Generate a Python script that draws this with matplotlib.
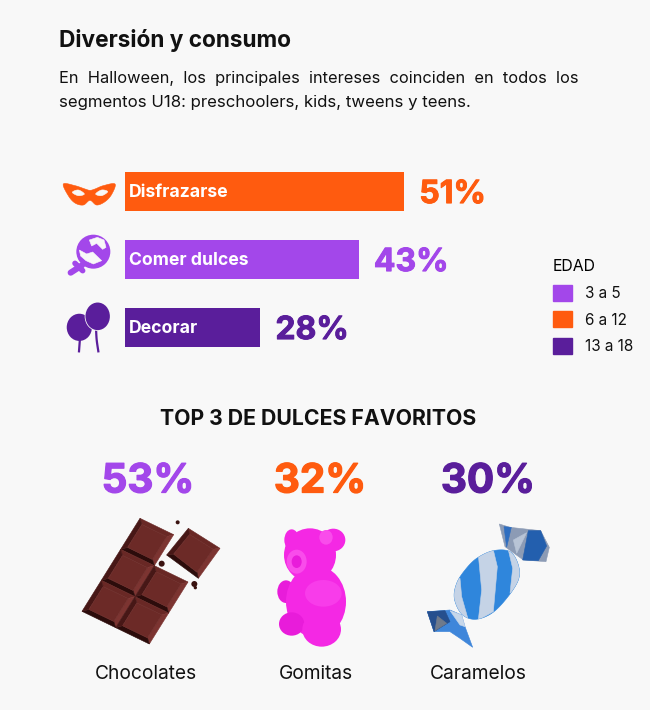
import matplotlib
matplotlib.use("Agg")
import matplotlib.pyplot as plt
import matplotlib.patches as mpatches
import matplotlib.patheffects as pe
import numpy as np

# ===============================================================
# Data
# ===============================================================
activities = ["Disfrazarse", "Comer dulces", "Decorar"]
activity_values = [51, 43, 28]
# the drawn bars are not to scale in the original, so lengths are kept apart
bar_lengths = [51, 42.7, 24.7]

candies = ["Chocolates", "Gomitas", "Caramelos"]
candy_values = [53, 32, 30]

age_groups = ["3 a 5", "6 a 12", "13 a 18"]

BG = "#F8F8F8"
LILAC = "#A347EA"
ORANGE = "#FF5B0F"
PURPLE = "#5A1E9B"
INK = "#111111"
FONT = "Inter"

activity_colors = [ORANGE, LILAC, PURPLE]
candy_colors = [LILAC, ORANGE, PURPLE]
age_colors = [LILAC, ORANGE, PURPLE]

plt.rcParams["font.family"] = [FONT, "DejaVu Sans"]

W, H = 650, 710
fig = plt.figure(figsize=(W / 100, H / 100), dpi=100, facecolor=BG)

# page axes in pixel coordinates, for text and the drawn icons
page = fig.add_axes([0, 0, 1, 1])
page.set_xlim(0, W)
page.set_ylim(H, 0)
page.axis("off")


def smooth(points, closed=True, steps=12):
    """Catmull-Rom curve through the points."""
    pts = np.array(points, dtype=float)
    n = len(pts)
    out = []
    idx = range(n) if closed else range(n - 1)
    for i in idx:
        if closed:
            p0, p1, p2, p3 = pts[i - 1], pts[i], pts[(i + 1) % n], pts[(i + 2) % n]
        else:
            p0, p1, p2, p3 = pts[max(i - 1, 0)], pts[i], pts[i + 1], pts[min(i + 2, n - 1)]
        for t in np.linspace(0, 1, steps, endpoint=False):
            out.append(
                0.5
                * (
                    2 * p1
                    + (p2 - p0) * t
                    + (2 * p0 - 5 * p1 + 4 * p2 - p3) * t**2
                    + (3 * p1 - p0 - 3 * p2 + p3) * t**3
                )
            )
    if not closed:
        out.append(pts[-1])
    return np.array(out)


def zoomed(points, x0, y0):
    """Coordinates measured on a 3x crop back to page pixels."""
    return np.array(points, dtype=float) / 3 + [x0, y0]


def poly(points, color, z=2, clip=None):
    # thin edge in the same colour closes antialiasing gaps between facets
    p = mpatches.Polygon(points, closed=True, facecolor=color, edgecolor=color, lw=0.4, zorder=z)
    page.add_patch(p)
    if clip is not None:
        p.set_clip_path(clip)
    return p


def blob(cx, cy, rx, ry, color, angle=0, z=2):
    p = mpatches.Ellipse((cx, cy), 2 * rx, 2 * ry, angle=angle, facecolor=color, edgecolor="none", zorder=z)
    page.add_patch(p)
    return p


def heavy(col, lw=0.7):
    return [pe.withStroke(linewidth=lw, foreground=col)]


# ===============================================================
# Header
# ===============================================================
page.text(59, 41, "Diversión y consumo", fontsize=16.3, fontweight="bold", color=INK, va="center")
page.text(59, 79, "En  Halloween,  los  principales  intereses  coinciden  en  todos  los", fontsize=11.8, color=INK, va="center")
page.text(59, 102, "segmentos U18: preschoolers, kids, tweens y teens.", fontsize=12.05, color=INK, va="center")

# ===============================================================
# Activity bars
# ===============================================================
ax = fig.add_axes([125 / W, 1 - 361.5 / H, 279 / W, 204 / H])
ax.set_xlim(0, 51)
ax.set_ylim(2.5, -0.5)
ax.axis("off")
ypos = np.arange(len(activities))
ax.barh(ypos, bar_lengths, height=0.566, color=activity_colors)
for i, name in enumerate(activities):
    ax.annotate(name, (0, i), xytext=(3, -1), textcoords="offset points", color="white",
                fontsize=12.7, fontweight="bold", va="center", ha="left")
    ax.annotate(f"{activity_values[i]}%", (bar_lengths[i], i), xytext=(11, -2.2), textcoords="offset points",
                color=activity_colors[i], fontsize=23, fontweight="bold", va="center", ha="left",
                annotation_clip=False, path_effects=heavy(activity_colors[i]))

# mask icon
poly(smooth(zoomed([(25, 27), (60, 32), (90, 42), (105, 46), (120, 42), (145, 32), (180, 27), (170, 58), (150, 80),
                    (125, 90), (105, 76), (85, 90), (60, 84), (40, 62)], 55, 175)), ORANGE)
poly(smooth(zoomed([(52, 52), (70, 45), (88, 57), (70, 62)], 55, 175)), BG, z=3)
poly(smooth(zoomed([(122, 57), (140, 45), (158, 50), (140, 62)], 55, 175)), BG, z=3)

# lollipop icon
c = zoomed([(100, 65)], 60, 230)[0]
blob(c[0], c[1], 17, 17, LILAC)
poly(zoomed([(88, 30), (112, 22), (132, 30), (138, 52), (128, 58), (110, 40), (95, 48)], 60, 230), BG, z=3)
poly(zoomed([(58, 60), (80, 72), (98, 66), (125, 92), (100, 102), (78, 92), (62, 78)], 60, 230), BG, z=3)
s = zoomed([(32, 128), (66, 106)], 60, 230)
page.plot(s[:, 0], s[:, 1], color=LILAC, lw=4.4, solid_capstyle="round", zorder=2)
s = zoomed([(45, 100), (68, 122)], 60, 230)
page.plot(s[:, 0], s[:, 1], color=LILAC, lw=4.0, solid_capstyle="round", zorder=2)

# balloons icon
b = zoomed([(58, 88)], 60, 298)[0]
blob(b[0], b[1], 12.6, 13.6, PURPLE, z=2)
b = zoomed([(113, 55)], 60, 298)[0]
blob(b[0], b[1], 13.0, 14.6, BG, z=3)
blob(b[0], b[1], 12.2, 13.8, PURPLE, z=4)
for line in ([(60, 120), (57, 160)], [(108, 90), (110, 125), (115, 160)]):
    s = smooth(zoomed(line, 60, 298), closed=False)
    page.plot(s[:, 0], s[:, 1], color=PURPLE, lw=1.6, zorder=2)

# ===============================================================
# Legend
# ===============================================================
handles = [mpatches.Patch(color=col, label=lab) for col, lab in zip(age_colors, age_groups)]
leg = fig.legend(handles=handles, title="EDAD", loc="upper left", bbox_to_anchor=(553 / W, 1 - 259 / H),
                 bbox_transform=fig.transFigure, frameon=False, fontsize=11, title_fontsize=11.4,
                 alignment="left", handlelength=1.25, handleheight=1.25, handletextpad=0.82,
                 labelspacing=0.69, borderpad=0, borderaxespad=0)
for t in leg.get_texts():
    t.set_color(INK)

# ===============================================================
# Top 3 candies
# ===============================================================
page.text(318, 419, "TOP 3 DE DULCES FAVORITOS", fontsize=15.3, fontweight="bold", color=INK, ha="center", va="center")

value_x = [148, 320, 488]
label_x = [146, 316, 478]
for i, name in enumerate(candies):
    page.text(value_x[i], 482, f"{candy_values[i]}%", color=candy_colors[i], fontsize=29,
              fontweight="bold", ha="center", va="center", path_effects=heavy(candy_colors[i], 0.9))
    page.text(label_x[i], 674, name, color=INK, fontsize=13.8, ha="center", va="center")


# chocolate bar
def tile(corners, base="#6C2A27", top="#692825", right="#7C3431", bottom="#2C0C0B", left="#471716", z=3):
    a, b, c, d = [np.array(v, dtype=float) for v in corners]
    inset = lambda p, u, v: p + 0.13 * u + 0.13 * v
    ab, ad = b - a, d - a
    ia = inset(a, ab, ad)
    ib = inset(b, -ab, ad)
    ic = inset(c, -ab, -ad)
    id_ = inset(d, ab, -ad)
    poly([a, b, ib, ia], top, z=z)
    poly([b, c, ic, ib], right, z=z)
    poly([c, d, id_, ic], bottom, z=z)
    poly([d, a, ia, id_], left, z=z)
    poly([ia, ib, ic, id_], base, z=z + 1)


choc_grid = {
    (0, 0): [(210, 25), (311, 74), (253, 167), (152, 118)],
    (1, 0): [(152, 118), (253, 167), (195, 260), (94, 211)],
    (1, 1): [(253, 167), (354, 216), (296, 309), (195, 260)],
    (2, 0): [(94, 211), (195, 260), (137, 353), (36, 304)],
    (2, 1): [(195, 260), (296, 309), (238, 402), (137, 353)],
}
for corners in choc_grid.values():
    tile(zoomed(corners, 70, 510))
tile(zoomed([(355, 55), (450, 115), (385, 205), (290, 135)], 70, 510))
for x, y, r in [(323, 37, 6), (275, 161, 9), (373, 222, 9), (376, 233, 5)]:
    p = zoomed([(x, y)], 70, 510)[0]
    blob(p[0], p[1], r / 3, r / 3, "#3A1210", z=6)

# gummy bear
PINK = "#F428E4"
PINK_D = "#E81CDA"
PINK_L = "#F94CEB"
for x, y, rx, ry, col, z in [
    (665, 90, 22, 32, PINK, 2), (790, 90, 36, 34, PINK, 2), (720, 135, 78, 80, PINK, 3),
    (738, 275, 90, 108, PINK, 3), (648, 245, 26, 34, PINK_D, 2), (665, 342, 38, 35, PINK_D, 4),
    (755, 358, 58, 52, PINK, 5), (768, 82, 20, 22, PINK_L, 4), (680, 155, 30, 36, PINK_L, 4),
    (680, 155, 15, 19, PINK_D, 5), (760, 250, 55, 40, "#F83CEA", 4),
]:
    p = zoomed([(x, y)], 70, 510)[0]
    blob(p[0], p[1], rx / 3, ry / 3, col, z=z)

# wrapped candy
wrap_top = zoomed([(268, 42), (300, 52), (392, 62), (418, 112), (408, 155), (340, 150), (315, 132), (285, 110)], 410, 510)
poly(wrap_top, "#8C9BB5", z=2)
poly(zoomed([(282, 50), (304, 52), (290, 112)], 410, 510), "#2F6EC0", z=3)
poly(zoomed([(355, 62), (392, 62), (410, 108), (385, 152), (338, 150)], 410, 510), "#235FAE", z=3)
poly(zoomed([(310, 90), (350, 68), (320, 130)], 410, 510), "#B8C4D6", z=3)
wrap_bot = zoomed([(52, 305), (120, 300), (155, 315), (165, 350), (188, 412), (150, 385), (120, 365), (72, 365)], 410, 510)
poly(wrap_bot, "#3F86DA", z=2)
poly(zoomed([(52, 305), (105, 302), (120, 335), (72, 365)], 410, 510), "#264F8E", z=3)
poly(zoomed([(82, 318), (110, 340), (75, 362)], 410, 510), "#6F7A8C", z=4)
poly(zoomed([(120, 302), (155, 315), (165, 350), (150, 345)], 410, 510), "#C7D7EA", z=3)

body = poly(smooth(zoomed([(200, 145), (250, 122), (300, 125), (325, 165), (325, 210), (290, 265), (245, 310),
                           (195, 328), (155, 312), (133, 265), (140, 220), (165, 180)], 410, 510)), "#2F86DC", z=5)
bands = [
    [(125, 210), (150, 205), (155, 260), (175, 330), (140, 320)],
    [(205, 135), (250, 120), (262, 170), (250, 305), (205, 330), (215, 240)],
    [(295, 120), (335, 150), (335, 225), (300, 250), (308, 175)],
]
for s in bands:
    poly(zoomed(s, 410, 510), "#C5D3E6", z=6, clip=body)

fig.savefig("out.png", dpi=100, facecolor=BG)
